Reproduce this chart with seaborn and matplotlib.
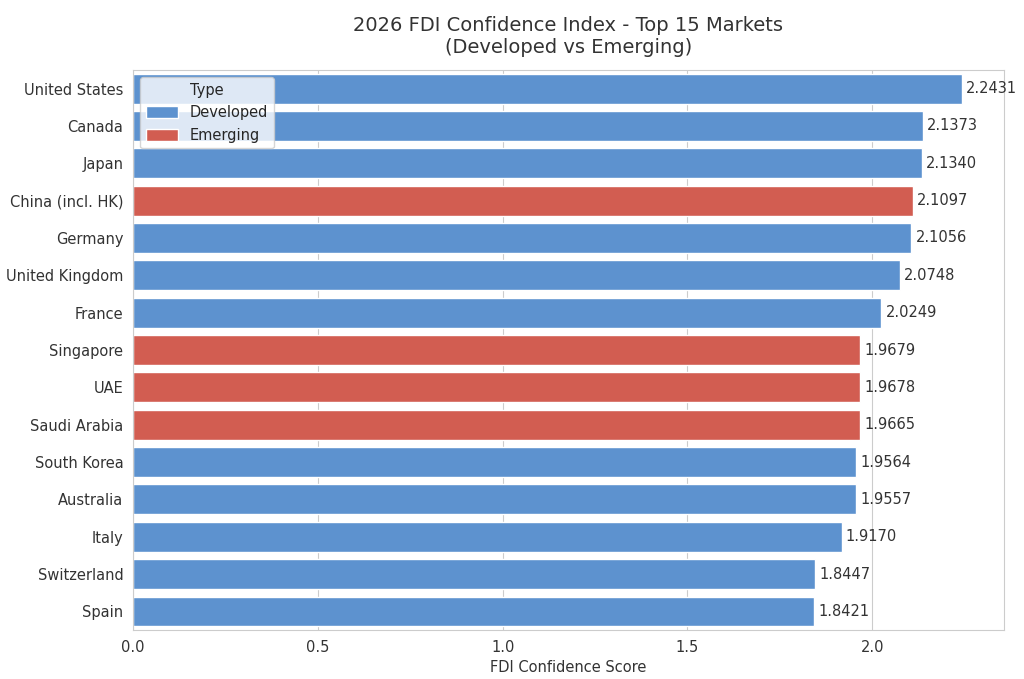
import seaborn as sns
import matplotlib.pyplot as plt
import pandas as pd

countries = ['United States', 'Canada', 'Japan', 'China (incl. HK)', 'Germany',
             'United Kingdom', 'France', 'Singapore', 'UAE', 'Saudi Arabia',
             'South Korea', 'Australia', 'Italy', 'Switzerland', 'Spain']
scores = [2.2431, 2.1373, 2.1340, 2.1097, 2.1056, 2.0748, 2.0249, 1.9679,
          1.9678, 1.9665, 1.9564, 1.9557, 1.9170, 1.8447, 1.8421]
types = ['Developed', 'Developed', 'Developed', 'Emerging', 'Developed',
         'Developed', 'Developed', 'Emerging', 'Emerging', 'Emerging',
         'Developed', 'Developed', 'Developed', 'Developed', 'Developed']

df = pd.DataFrame({'Country': countries, 'Score': scores, 'Type': types})

sns.set_style('whitegrid')
fig, ax = plt.subplots(figsize=(10.24, 6.79), dpi=100)

palette = {'Developed': '#4A90E2', 'Emerging': '#E74C3C'}
sns.barplot(data=df, x='Score', y='Country', hue='Type', palette=palette,
            dodge=False, ax=ax)

# value labels at the end of each bar
for cont in ax.containers:
    ax.bar_label(cont, fmt='%.4f', padding=3, fontsize=10.5, color='#333333')

ax.set_xlim(0, max(scores) * 1.05)
ax.set_title('2026 FDI Confidence Index - Top 15 Markets\n(Developed vs Emerging)',
             fontsize=14, color='#333333', pad=12)
ax.set_xlabel('FDI Confidence Score', fontsize=10.5, color='#333333')
ax.set_ylabel('')
ax.tick_params(labelsize=10.5, colors='#333333')
ax.grid(axis='y', visible=False)
ax.legend(title='Type', loc='upper left', fontsize=10.5, title_fontsize=10.5,
          handlelength=2.2, handleheight=0.9)

plt.subplots_adjust(left=0.13, right=0.98, top=0.897, bottom=0.072)
plt.savefig('out.png', dpi=100)
